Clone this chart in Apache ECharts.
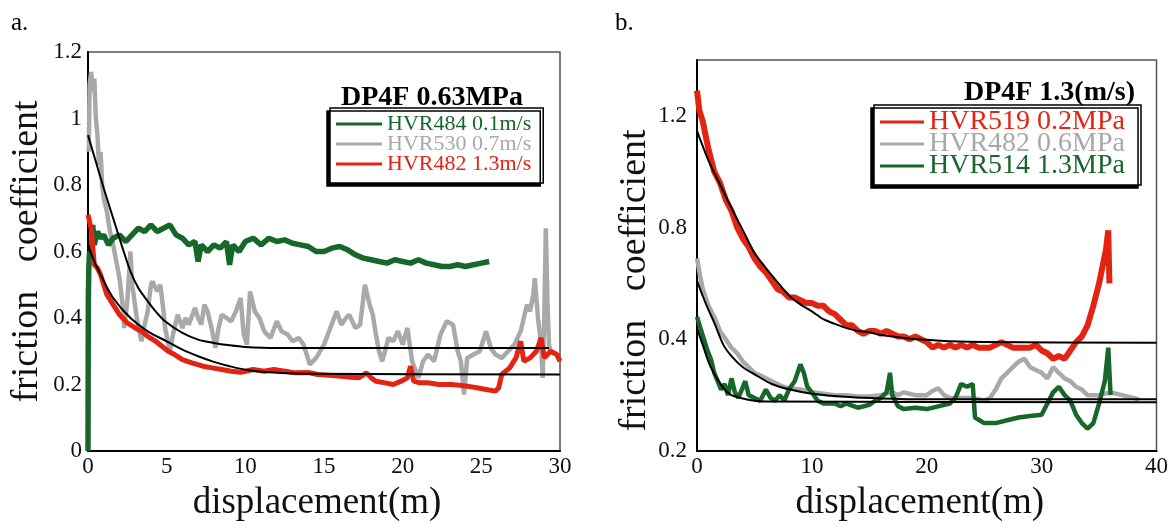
<!DOCTYPE html>
<html>
<head>
<meta charset="utf-8">
<script src="https://cdn.jsdelivr.net/npm/echarts@6/dist/echarts.min.js"></script>
<style>
html,body{margin:0;padding:0;background:#fff;}
#chart{width:1171px;height:527px;}
</style>
</head>
<body>
<div id="chart"></div>
<script>
// ---------- Panel a (DP4F 0.63MPa) ----------
const xTicksA = [0, 5, 10, 15, 20, 25, 30];
const yTicksA = [0, 0.2, 0.4, 0.6, 0.8, 1, 1.2];
const namesA = ['HVR484 0.1m/s', 'HVR530 0.7m/s', 'HVR482 1.3m/s'];

const greenA = [[0,0],[0.02,0.45],[0.05,0.55],[0.1,0.6],[0.2,0.58],[0.3,0.68],[0.4,0.62],[0.6,0.66],[0.8,0.64],[1.0,0.65],[1.3,0.62],[1.6,0.64],[2.0,0.65],[2.4,0.63],[2.8,0.65],[3.2,0.67],[3.6,0.66],[4.0,0.68],[4.4,0.66],[4.8,0.67],[5.2,0.68],[5.6,0.65],[6.0,0.64],[6.4,0.62],[6.8,0.63],[7.0,0.57],[7.2,0.62],[7.6,0.6],[8.0,0.62],[8.4,0.61],[8.8,0.63],[9.0,0.56],[9.2,0.62],[9.6,0.6],[10.0,0.63],[10.5,0.64],[11.0,0.62],[11.5,0.64],[12.0,0.63],[12.5,0.635],[13.0,0.625],[13.5,0.62],[14.0,0.615],[14.5,0.6],[15.0,0.6],[15.5,0.61],[16.0,0.615],[16.5,0.605],[17.0,0.59],[17.5,0.58],[18.0,0.575],[18.5,0.57],[19.0,0.565],[19.5,0.575],[20.0,0.57],[20.5,0.565],[21.0,0.575],[21.5,0.565],[22.0,0.56],[22.5,0.555],[23.0,0.555],[23.5,0.56],[24.0,0.555],[24.5,0.56],[25.0,0.565],[25.5,0.57]];

const grayA = [[0.05,0.9],[0.1,1.1],[0.2,1.14],[0.3,1.08],[0.4,1.12],[0.5,1.0],[0.6,0.95],[0.7,0.86],[0.8,0.9],[0.9,0.8],[1.0,0.76],[1.2,0.72],[1.4,0.66],[1.6,0.62],[1.8,0.57],[2.0,0.52],[2.2,0.44],[2.3,0.37],[2.5,0.45],[2.7,0.6],[2.8,0.5],[2.9,0.47],[3.1,0.4],[3.4,0.33],[3.6,0.38],[3.8,0.42],[4.0,0.5],[4.1,0.51],[4.4,0.48],[4.6,0.5],[4.8,0.42],[4.9,0.37],[5.2,0.3],[5.4,0.35],[5.7,0.41],[6.0,0.37],[6.2,0.4],[6.4,0.38],[6.8,0.43],[7.0,0.4],[7.2,0.38],[7.4,0.44],[7.6,0.42],[7.9,0.36],[8.1,0.31],[8.3,0.37],[8.5,0.41],[8.8,0.4],[9.1,0.39],[9.4,0.42],[9.7,0.46],[9.9,0.35],[10.1,0.32],[10.3,0.48],[10.6,0.42],[10.9,0.4],[11.2,0.36],[11.6,0.34],[12.0,0.39],[12.3,0.36],[12.7,0.35],[13.0,0.33],[13.4,0.34],[13.7,0.32],[14.1,0.26],[14.5,0.28],[15.0,0.32],[15.4,0.37],[15.8,0.42],[16.1,0.38],[16.4,0.4],[16.6,0.41],[17.0,0.37],[17.3,0.38],[17.6,0.5],[17.9,0.44],[18.1,0.41],[18.3,0.35],[18.5,0.3],[18.7,0.27],[19.1,0.34],[19.4,0.33],[19.7,0.36],[20.0,0.32],[20.3,0.37],[20.6,0.27],[21.0,0.22],[21.3,0.27],[21.6,0.29],[22.0,0.27],[22.4,0.35],[22.8,0.39],[23.2,0.38],[23.5,0.3],[23.7,0.27],[23.9,0.17],[24.1,0.28],[24.5,0.29],[24.9,0.3],[25.3,0.36],[25.6,0.31],[25.9,0.29],[26.3,0.28],[26.7,0.3],[27.1,0.32],[27.5,0.36],[27.9,0.44],[28.1,0.42],[28.3,0.47],[28.4,0.52],[28.6,0.4],[28.8,0.32],[28.9,0.22],[29.0,0.4],[29.1,0.67],[29.2,0.45],[29.3,0.32],[29.4,0.3]];

const redA = [[0,0.71],[0.2,0.67],[0.4,0.56],[0.6,0.55],[0.8,0.53],[1.0,0.5],[1.2,0.47],[1.6,0.44],[2.0,0.41],[2.5,0.385],[3.0,0.37],[3.4,0.36],[3.8,0.345],[4.3,0.33],[4.7,0.315],[5.1,0.3],[5.5,0.29],[6.0,0.275],[6.6,0.265],[7.3,0.255],[7.9,0.25],[8.5,0.245],[9.1,0.24],[9.7,0.237],[10.5,0.245],[11.2,0.24],[11.8,0.245],[12.5,0.24],[13.2,0.235],[14.0,0.236],[14.6,0.23],[15.3,0.228],[16.1,0.225],[16.7,0.222],[17.2,0.22],[17.7,0.235],[18.0,0.22],[18.3,0.21],[18.9,0.205],[19.4,0.2],[19.9,0.21],[20.3,0.22],[20.5,0.255],[20.7,0.21],[21.1,0.205],[21.6,0.205],[22.3,0.2],[23.1,0.2],[23.6,0.198],[24.1,0.195],[24.7,0.19],[25.3,0.185],[25.9,0.18],[26.1,0.19],[26.3,0.23],[26.8,0.25],[27.2,0.28],[27.5,0.33],[27.7,0.27],[28.1,0.28],[28.5,0.3],[28.8,0.34],[29.0,0.28],[29.4,0.3],[29.8,0.29],[30,0.27]];

const fitA1 = [[0,0.95],[0.5,0.87],[1,0.79],[1.6,0.7],[2.2,0.61],[2.7,0.54],[3.2,0.49],[3.8,0.45],[4.3,0.42],[4.9,0.39],[6,0.355],[7,0.335],[8,0.325],[9,0.318],[10,0.313],[12,0.31],[29.3,0.31]];
const fitA2 = [[0,0.62],[0.4,0.57],[0.8,0.53],[1.6,0.46],[2.7,0.4],[3.8,0.36],[5,0.33],[6,0.305],[7,0.285],[8,0.268],[9,0.255],[10.2,0.243],[12,0.235],[14,0.232],[30,0.23]];

// ---------- Panel b (DP4F 1.3(m/s)) ----------
const xTicksB = [0, 10, 20, 30, 40];
const yTickValuesB = [0, 0.4, 0.8, 1.2];
const yTickTextB = ['0.2', '0.4', '0.8', '1.2'];
const namesB = ['HVR519 0.2MPa', 'HVR482 0.6MPa', 'HVR514 1.3MPa'];

const redB = [[0,1.29],[0.2,1.22],[0.5,1.18],[1,1.08],[1.5,1.0],[2,0.96],[2.5,0.9],[3,0.86],[3.5,0.8],[4,0.76],[4.5,0.73],[5,0.69],[5.5,0.66],[6,0.64],[6.5,0.61],[7,0.58],[7.5,0.57],[8,0.55],[8.5,0.55],[9,0.54],[9.5,0.53],[10,0.53],[10.5,0.52],[11,0.52],[11.5,0.5],[12,0.49],[12.5,0.47],[13,0.45],[13.5,0.45],[14,0.43],[14.5,0.42],[15,0.43],[15.5,0.43],[16,0.42],[16.5,0.43],[17,0.42],[17.5,0.41],[18,0.41],[18.5,0.4],[19,0.41],[19.5,0.4],[20,0.39],[20.5,0.37],[21,0.38],[21.5,0.37],[22,0.38],[22.5,0.37],[23,0.38],[23.5,0.37],[24,0.38],[24.5,0.37],[25,0.37],[25.5,0.37],[26,0.38],[26.5,0.39],[27,0.38],[27.5,0.37],[28,0.37],[28.5,0.37],[29,0.37],[29.5,0.38],[30,0.36],[30.5,0.35],[31,0.33],[31.5,0.34],[32,0.33],[32.5,0.36],[33,0.39],[33.5,0.41],[34,0.45],[34.5,0.52],[35,0.6],[35.3,0.66],[35.6,0.72],[35.8,0.79],[35.9,0.6]];

const grayB = [[0,0.69],[0.3,0.62],[0.5,0.58],[1,0.52],[1.5,0.48],[2,0.43],[2.5,0.4],[3,0.37],[3.5,0.35],[4,0.32],[4.5,0.3],[5,0.28],[5.5,0.27],[6,0.26],[6.5,0.25],[7,0.24],[7.5,0.23],[8,0.225],[9,0.22],[10,0.21],[11,0.205],[12,0.2],[13,0.2],[14,0.195],[15,0.195],[16,0.2],[17,0.21],[17.5,0.2],[18,0.21],[19,0.2],[20,0.2],[20.5,0.215],[21,0.225],[21.5,0.2],[22,0.19],[23,0.19],[24,0.19],[25,0.18],[25.5,0.19],[26,0.22],[26.5,0.26],[27,0.28],[27.5,0.3],[28,0.32],[28.5,0.33],[29,0.3],[29.5,0.29],[30,0.28],[30.5,0.26],[31,0.3],[31.5,0.28],[32,0.26],[32.5,0.25],[33,0.23],[33.5,0.22],[34,0.2],[35,0.2],[36,0.21],[37,0.2],[38,0.19],[38.5,0.185]];

const greenB = [[0,0.48],[0.3,0.44],[0.6,0.4],[0.9,0.36],[1.2,0.33],[1.5,0.28],[1.8,0.25],[2.1,0.22],[2.4,0.24],[2.7,0.2],[3,0.26],[3.3,0.21],[3.6,0.19],[3.9,0.22],[4.2,0.25],[4.5,0.2],[5,0.19],[5.5,0.18],[6,0.22],[6.4,0.19],[6.8,0.18],[7.2,0.2],[7.6,0.18],[8,0.22],[8.5,0.25],[9,0.31],[9.3,0.28],[9.6,0.23],[10,0.21],[10.5,0.18],[11,0.17],[12,0.17],[12.5,0.16],[13,0.17],[14,0.155],[15,0.165],[15.5,0.18],[16,0.19],[16.5,0.21],[16.8,0.28],[17,0.2],[17.5,0.16],[18,0.15],[19,0.155],[20,0.15],[21,0.16],[22,0.17],[22.5,0.19],[23,0.24],[23.5,0.23],[24,0.24],[24.2,0.12],[25,0.1],[26,0.1],[27,0.11],[28,0.12],[29,0.125],[30,0.13],[30.5,0.17],[31,0.21],[31.5,0.23],[32,0.2],[32.5,0.18],[33,0.13],[33.5,0.1],[34,0.08],[34.5,0.1],[35,0.17],[35.5,0.25],[35.8,0.37],[36,0.2]];

const fitB1 = [[0,1.146],[1,1.04],[2,0.955],[3,0.87],[4,0.79],[5,0.71],[6,0.655],[7,0.605],[8,0.557],[9,0.525],[10,0.5],[11,0.472],[12,0.455],[13,0.44],[14,0.43],[15,0.425],[16,0.415],[18,0.405],[20,0.398],[22,0.393],[25,0.39],[40,0.388]];
const fitB2 = [[0,0.61],[0.5,0.555],[1,0.505],[1.5,0.46],[2.3,0.38],[3,0.34],[4,0.3],[5.2,0.27],[6.5,0.24],[8.1,0.22],[10,0.205],[13.3,0.193],[16,0.188],[20,0.185],[40,0.185]];
const fitB3 = [[0,0.44],[0.5,0.38],[1.2,0.3],[2.3,0.225],[3,0.2],[3.8,0.19],[5,0.18],[6,0.177],[40,0.175]];

// ---------- styling ----------
const SERIF = "'Liberation Serif','DejaVu Serif','Times New Roman',serif";
const C_GREEN = '#17672a';
const C_GRAY = '#a9a9a9';
const C_RED = '#e32412';

function dataLine(name, data, color, xi, w) {
  return { name, type: 'line', data, xAxisIndex: xi, yAxisIndex: xi, showSymbol: false,
    lineStyle: { color, width: w }, itemStyle: { color }, silent: true, z: 2 };
}
function fitLine(data, xi) {
  return { type: 'line', data, xAxisIndex: xi, yAxisIndex: xi, showSymbol: false, smooth: 0.3,
    lineStyle: { color: '#000', width: 2 }, silent: true, z: 5 };
}
function xAx(gi, max, interval) {
  return { type: 'value', gridIndex: gi, min: 0, max, interval,
    name: 'displacement(m)', nameLocation: 'middle', nameGap: 34,
    nameTextStyle: { fontFamily: SERIF, fontSize: 37, color: '#111', padding: [0, 14, 0, 0] },
    axisLine: { show: true, lineStyle: { color: '#000', width: 2 } },
    axisTick: { show: false }, splitLine: { show: false },
    axisLabel: { fontFamily: SERIF, fontSize: 23, color: '#111', margin: 4 } };
}
function yName(gap, pad) {
  return { name: 'friction   coefficient', nameLocation: 'middle', nameGap: gap,
    nameTextStyle: { fontFamily: SERIF, fontSize: 38, color: '#111', padding: pad } };
}

const option = {
  animation: false,
  backgroundColor: '#fff',
  title: [
    { text: 'a.', left: 6, top: 6, textStyle: { fontFamily: SERIF, fontSize: 25, fontWeight: 'normal', color: '#000' } },
    { text: 'b.', left: 610, top: 6, textStyle: { fontFamily: SERIF, fontSize: 25, fontWeight: 'normal', color: '#000' } },
    { text: 'DP4F 0.63MPa', left: 336, top: 79, z: 10, textStyle: { fontFamily: SERIF, fontSize: 28, fontWeight: 'bold', color: '#000' } },
    { text: 'DP4F 1.3(m/s)', right: 31, top: 74, z: 10, textStyle: { fontFamily: SERIF, fontSize: 28, fontWeight: 'bold', color: '#000' } }
  ],
  grid: [
    { left: 88, top: 52, width: 472, height: 406, show: true, borderColor: '#555', borderWidth: 1.5, backgroundColor: 'transparent' },
    { left: 697, top: 60, width: 460, height: 397, show: true, borderColor: '#555', borderWidth: 1.5, backgroundColor: 'transparent' }
  ],
  legend: [
    { data: namesA.map((n, i) => ({ name: n, textStyle: { color: [C_GREEN, C_GRAY, C_RED][i] } })),
      orient: 'vertical', left: 330, top: 108, icon: 'rect', itemWidth: 46, itemHeight: 3, itemGap: -2,
      padding: [5, 12, 8, 6], backgroundColor: '#fff', borderColor: '#000', borderWidth: 1.5,
      shadowColor: '#000', shadowBlur: 0, shadowOffsetX: -3, shadowOffsetY: 3,
      textStyle: { fontFamily: SERIF, fontSize: 22 }, selectedMode: false },
    { data: namesB.map((n, i) => ({ name: n, textStyle: { color: [C_RED, C_GRAY, C_GREEN][i] } })),
      orient: 'vertical', left: 874, top: 105, icon: 'rect', itemWidth: 44, itemHeight: 3, itemGap: -6,
      padding: [3, 16, 5, 6], backgroundColor: '#fff', borderColor: '#000', borderWidth: 1.5,
      shadowColor: '#000', shadowBlur: 0, shadowOffsetX: -3, shadowOffsetY: 3,
      textStyle: { fontFamily: SERIF, fontSize: 28 }, selectedMode: false }
  ],
  xAxis: [ xAx(0, xTicksA[xTicksA.length - 1], xTicksA[1] - xTicksA[0]), xAx(1, xTicksB[xTicksB.length - 1], xTicksB[1] - xTicksB[0]) ],
  yAxis: [
    Object.assign({ type: 'value', gridIndex: 0, min: yTicksA[0], max: yTicksA[yTicksA.length - 1], interval: 0.2,
      axisLine: { show: true, lineStyle: { color: '#000', width: 2 } },
      axisTick: { show: false }, splitLine: { show: false },
      axisLabel: { fontFamily: SERIF, fontSize: 23, color: '#111', margin: 6,
        formatter: v => String(+v.toFixed(1)) } }, yName(42, [0, 0, 0, 0])),
    Object.assign({ type: 'value', gridIndex: 1, min: 0, max: 1.4, interval: 0.4,
      axisLine: { show: true, lineStyle: { color: '#000', width: 2 } },
      axisTick: { show: false }, splitLine: { show: false },
      axisLabel: { fontFamily: SERIF, fontSize: 23, color: '#111', margin: 10,
        formatter: v => { const i = yTickValuesB.findIndex(t => Math.abs(t - v) < 1e-6); return i >= 0 ? yTickTextB[i] : ''; } } },
      yName(43, [0, 50, 0, 0]))
  ],
  series: [
    dataLine(namesA[1], grayA, C_GRAY, 0, 4.5),
    dataLine(namesA[0], greenA, C_GREEN, 0, 5.5),
    dataLine(namesA[2], redA, C_RED, 0, 5),
    fitLine(fitA1, 0), fitLine(fitA2, 0),
    dataLine(namesB[1], grayB, C_GRAY, 1, 4.5),
    dataLine(namesB[2], greenB, C_GREEN, 1, 4.5),
    dataLine(namesB[0], redB, C_RED, 1, 6),
    fitLine(fitB1, 1), fitLine(fitB2, 1), fitLine(fitB3, 1)
  ]
};

const chart = echarts.init(document.getElementById('chart'), null, { renderer: 'canvas' });
chart.setOption(option);
</script>
</body>
</html>
